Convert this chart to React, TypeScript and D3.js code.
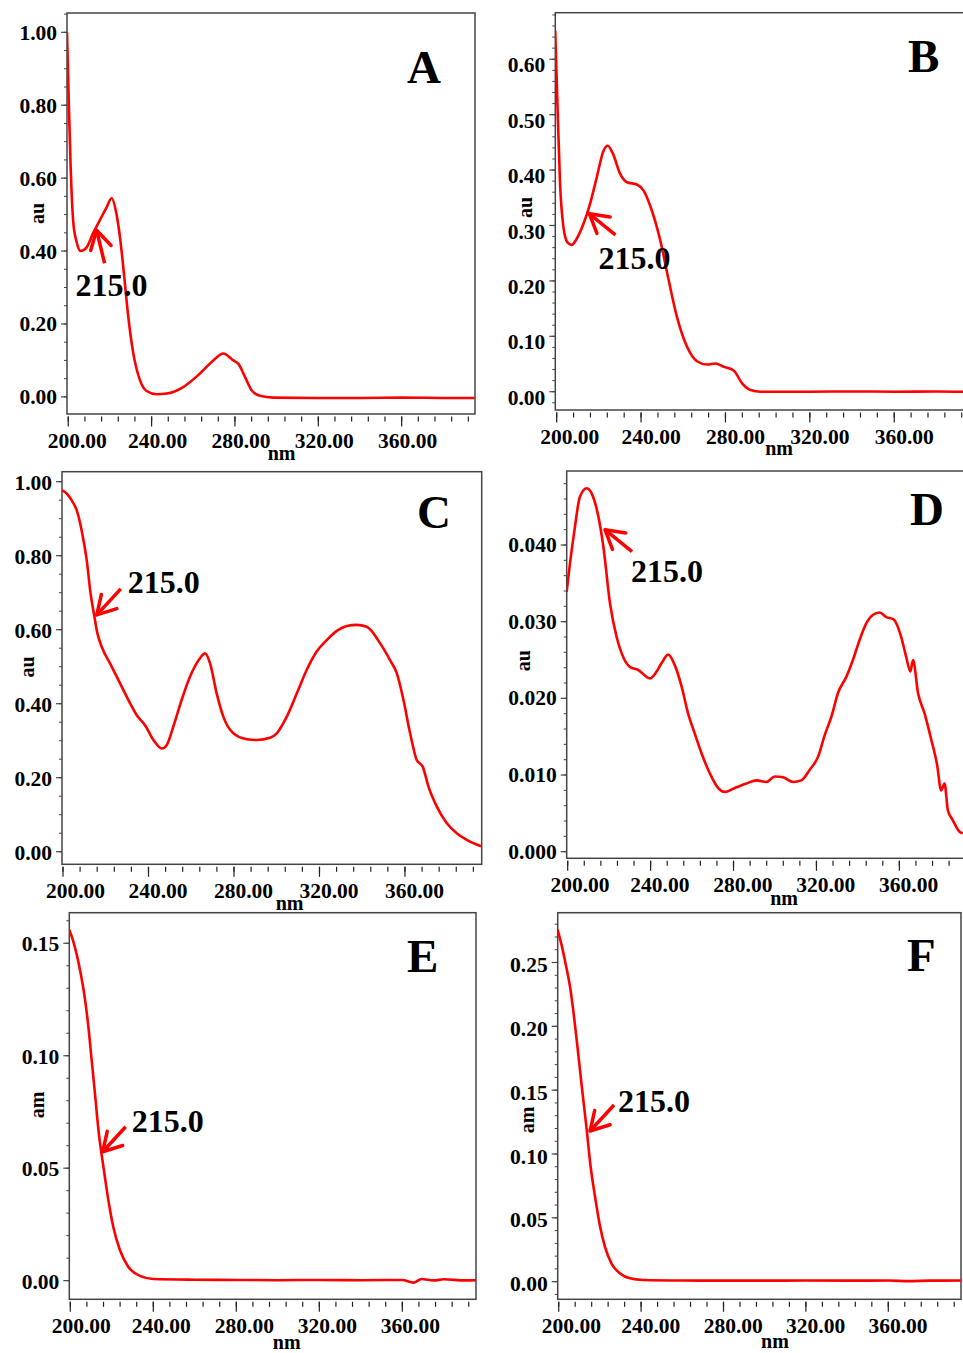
import React from 'react';
import * as d3 from 'd3';

// x axis (wavelength) ticks shared by all panels
const xTicks = [200, 240, 280, 320, 360];
const xTickLabels = ['200.00', '240.00', '280.00', '320.00', '360.00'];

// panel A
const nmA = [199.4, 200.3, 201.1, 202.4, 204, 206, 208.8, 212, 215.2, 218.4, 220.8, 223.2, 225.6, 227.2, 228.8, 231.2, 234.4, 237.6, 242.4, 247.2, 255.2, 263.2, 269.6, 274.4, 279.2, 281.6, 284.8, 288, 292, 298.4, 320, 340, 360, 380, 395];
const auA = [1.0, 0.8, 0.64, 0.48, 0.425, 0.4, 0.41, 0.45, 0.485, 0.52, 0.545, 0.5, 0.4, 0.31, 0.22, 0.12, 0.046, 0.016, 0.007, 0.009, 0.027, 0.064, 0.1, 0.119, 0.1, 0.091, 0.055, 0.018, 0.003, -0.002, -0.003, -0.003, -0.002, -0.003, -0.003];
const yTicksA = [0, 0.2, 0.4, 0.6, 0.8, 1.0];

// panel B
const nmB = [199.3, 200.3, 201.6, 203.2, 205, 207.1, 209.5, 212.7, 215.8, 219, 222.2, 224.2, 226.6, 230.1, 233.3, 238, 241.2, 245.1, 249.1, 253.1, 257, 261.8, 266.5, 271.3, 275.2, 279.2, 284, 287.9, 291.9, 296.6, 320, 340, 360, 380, 392.6];
const auB = [0.652, 0.525, 0.375, 0.297, 0.27, 0.265, 0.276, 0.303, 0.339, 0.387, 0.435, 0.444, 0.43, 0.393, 0.378, 0.374, 0.363, 0.327, 0.273, 0.201, 0.135, 0.081, 0.055, 0.049, 0.051, 0.045, 0.038, 0.015, 0.003, 0, 0, 0.0005, 0, 0.0005, 0];
const yTicksB = [0, 0.1, 0.2, 0.3, 0.4, 0.5, 0.6];

// panel C
const nmC = [199.4, 201.7, 204, 206.4, 208.7, 211.1, 212.9, 214.7, 216.1, 218.1, 222, 226.7, 231.4, 234.5, 238.4, 242.3, 246.2, 248.5, 251.6, 255.5, 259.4, 264.1, 266.5, 268.8, 271.9, 275, 279.7, 286, 290.6, 296.9, 300, 304.7, 309.4, 314, 318.7, 323.4, 328.1, 332.8, 337.4, 342.1, 348.4, 353, 356.2, 359.3, 362.4, 365.5, 368.3, 371, 374.9, 379.6, 384.2, 388.9, 395.6];
const auC = [0.977, 0.968, 0.95, 0.923, 0.869, 0.788, 0.698, 0.635, 0.59, 0.554, 0.509, 0.455, 0.401, 0.369, 0.342, 0.302, 0.279, 0.288, 0.338, 0.41, 0.473, 0.523, 0.536, 0.509, 0.428, 0.365, 0.32, 0.304, 0.302, 0.308, 0.32, 0.365, 0.428, 0.491, 0.541, 0.572, 0.597, 0.61, 0.613, 0.608, 0.563, 0.518, 0.482, 0.41, 0.32, 0.248, 0.23, 0.176, 0.122, 0.077, 0.05, 0.032, 0.015];
const yTicksC = [0, 0.2, 0.4, 0.6, 0.8, 1.0];

// panel D
const nmD = [199.5, 201.1, 203.5, 205.9, 209.2, 211.6, 214.8, 217.2, 220.4, 223.6, 226, 230, 234, 239.7, 242.9, 245.3, 248.5, 251.7, 255, 258.1, 261.3, 264.6, 268.6, 272.6, 275.8, 281.4, 286.2, 291.1, 295.9, 299.9, 303.9, 308.7, 312.7, 316.8, 320.8, 324, 327.2, 330.4, 334.4, 337.6, 340.8, 344.1, 347.3, 350.5, 353.7, 357.2, 360.9, 363.3, 365.3, 366.6, 369, 372.2, 375.4, 378.1, 380.2, 381.8, 383.4, 385.8, 389, 390.6];
const auD = [0.0339, 0.0376, 0.0424, 0.0463, 0.0474, 0.0467, 0.0437, 0.0398, 0.0324, 0.028, 0.0259, 0.0241, 0.0237, 0.0226, 0.0235, 0.0246, 0.0257, 0.0243, 0.0215, 0.018, 0.0154, 0.0128, 0.0102, 0.0083, 0.0078, 0.0084, 0.0089, 0.0093, 0.0091, 0.0098, 0.0097, 0.0091, 0.0093, 0.0107, 0.0124, 0.0152, 0.0176, 0.0207, 0.0228, 0.025, 0.0276, 0.0298, 0.0309, 0.0312, 0.0306, 0.0303, 0.028, 0.0254, 0.0235, 0.025, 0.0207, 0.018, 0.0146, 0.0115, 0.008, 0.0089, 0.0054, 0.0041, 0.0026, 0.0024];
const yTicksD = [0, 0.01, 0.02, 0.03, 0.04];

// panel E
const nmE = [199.5, 201.4, 204.7, 207.1, 208.7, 210.3, 211.9, 213.8, 215.9, 218.3, 220.7, 223.9, 227.9, 233.6, 240, 260, 280, 300, 320, 340, 360, 365.3, 369.3, 375, 380, 390, 395.5];
const amE = [0.156, 0.151, 0.138, 0.125, 0.113, 0.098, 0.083, 0.065, 0.051, 0.036, 0.024, 0.0136, 0.0062, 0.0021, 0.0007, 0.0004, 0.0003, 0.0002, 0.0003, 0.0002, 0.0003, -0.0009, 0.0007, 0.0001, 0.0006, 0.0001, 0.0002];
const yTicksE = [0, 0.05, 0.1, 0.15];

// panel F
const nmF = [199.4, 201.5, 203.6, 205.5, 207.4, 209.1, 211.2, 213.6, 215.5, 217.6, 220.1, 222.5, 225.7, 229.8, 234.6, 241.1, 260, 280, 300, 320, 340, 360, 370, 380, 395.3];
const amF = [0.276, 0.263, 0.247, 0.231, 0.208, 0.184, 0.153, 0.119, 0.09, 0.067, 0.043, 0.027, 0.014, 0.0065, 0.0026, 0.0013, 0.0009, 0.0008, 0.0008, 0.0009, 0.0008, 0.0009, 0.0004, 0.0008, 0.0009];
const yTicksF = [0, 0.05, 0.1, 0.15, 0.2, 0.25];

const peakLabel = '215.0';

type Panel = {
  letter: string;
  nm: number[];
  val: number[];
  yTicks: number[];
  yFmt: string;
  yMinor: number;
  yLabel: string;
  box: [number, number, number, number];
  xDom: [number, number];
  yDom: [number, number];
  rightEdge: boolean;
  letterPos: [number, number];
  ylabDx: number;
  ylabDy: number;
  yTickDy: number;
  nmAt: number;
  nmDy: number;
  xLabShift: number;
  tip: [number, number];
  tail: [number, number];
  text: [number, number];
};

const panels: Panel[] = [
  { letter: 'A', nm: nmA, val: auA, yTicks: yTicksA, yFmt: '.2f', yMinor: 0.05, yLabel: 'au',
    box: [67, 13, 475, 414], xDom: [199.4, 395.2], yDom: [-0.047, 1.053], rightEdge: true,
    letterPos: [407, 83], ylabDx: -30, ylabDy: 0, yTickDy: 0, nmAt: 302.4, nmDy: 46, xLabShift: 6,
    tip: [213.6, 0.457], tail: [8, 33], text: [-21, 66] },
  { letter: 'B', nm: nmB, val: auB, yTicks: yTicksB, yFmt: '.2f', yMinor: 0.02, yLabel: 'au',
    box: [555.3, 12.7, 963, 410], xDom: [199.34, 392.6], yDom: [-0.033, 0.684], rightEdge: false,
    letterPos: [908, 72], ylabDx: -30, ylabDy: -4, yTickDy: 5.5, nmAt: 305.4, nmDy: 45, xLabShift: 10,
    tip: [215.5, 0.321], tail: [26, 21], text: [9, 55] },
  { letter: 'C', nm: nmC, val: auC, yTicks: yTicksC, yFmt: '.2f', yMinor: 0.05, yLabel: 'au',
    box: [62, 471.7, 481.7, 864.3], xDom: [199.53, 395.9], yDom: [-0.034, 1.027], rightEdge: true,
    letterPos: [417, 528], ylabDx: -35, ylabDy: -1, yTickDy: 0.5, nmAt: 306, nmDy: 46, xLabShift: 9.5,
    tip: [215.8, 0.64], tail: [24, -26], text: [31, -22] },
  { letter: 'D', nm: nmD, val: auD, yTicks: yTicksD, yFmt: '.3f', yMinor: 0.002, yLabel: 'au',
    box: [566.7, 471, 963, 858.3], xDom: [199.52, 390.7], yDom: [-0.00086, 0.04965], rightEdge: false,
    letterPos: [910, 525], ylabDx: -44, ylabDy: -4, yTickDy: -0.5, nmAt: 304.4, nmDy: 47, xLabShift: 9.3,
    tip: [218, 0.042], tail: [27, 22], text: [26, 52] },
  { letter: 'E', nm: nmE, val: amE, yTicks: yTicksE, yFmt: '.2f', yMinor: 0.01, yLabel: 'am',
    box: [69.3, 912.7, 476, 1299.3], xDom: [199.52, 395.5], yDom: [-0.0083, 0.1636], rightEdge: true,
    letterPos: [407, 972], ylabDx: -32, ylabDy: -1, yTickDy: 0.5, nmAt: 304.3, nmDy: 50, xLabShift: 8,
    tip: [215.6, 0.0573], tail: [23, -25], text: [29, -20] },
  { letter: 'F', nm: nmF, val: amF, yTicks: yTicksF, yFmt: '.2f', yMinor: 0.01, yLabel: 'am',
    box: [557.7, 912.7, 961, 1299.3], xDom: [199.51, 395.3], yDom: [-0.0138, 0.289], rightEdge: true,
    letterPos: [907, 971], ylabDx: -31, ylabDy: 14, yTickDy: 2, nmAt: 305, nmDy: 49, xLabShift: 9.7,
    tip: [215.2, 0.118], tail: [24, -26], text: [28, -19] },
];

const font = "'Liberation Serif', 'Times New Roman', serif";
const red = '#ff0000';
const axisColor = '#444';

const SpectrumPanel = ({ p }: { p: Panel }) => {
  const [l, t, r, b] = p.box;
  const x = d3.scaleLinear().domain(p.xDom).range([l, r]);
  const y = d3.scaleLinear().domain(p.yDom).range([b, t]);
  const fmt = d3.format(p.yFmt);

  const line = d3
    .line<number>()
    .x((_, i) => x(p.nm[i]))
    .y(d => y(d))
    .curve(d3.curveMonotoneX);

  const xMinor = d3.range(200, p.xDom[1], 8);
  const k0 = Math.ceil(p.yDom[0] / p.yMinor);
  const steps = Math.floor((p.yDom[1] - p.yDom[0]) / p.yMinor) + 2;
  const yMinor = d3
    .range(k0, k0 + steps)
    .map(k => k * p.yMinor)
    .filter(v => v >= p.yDom[0] && v <= p.yDom[1]);

  // arrow: tip sits on the curve, tail offset in px
  const tx = x(p.tip[0]);
  const ty = y(p.tip[1]);
  const len = Math.hypot(p.tail[0], p.tail[1]);
  const ux = p.tail[0] / len;
  const uy = p.tail[1] / len;
  const arm = (deg: number) => {
    const a = (deg * Math.PI) / 180;
    const rx = ux * Math.cos(a) - uy * Math.sin(a);
    const ry = ux * Math.sin(a) + uy * Math.cos(a);
    return `M${tx + rx * 21},${ty + ry * 21}L${tx},${ty}`;
  };

  const midY = (t + b) / 2;

  return (
    <g>
      <defs>
        <clipPath id={`clip-${p.letter}`}>
          <rect x={l} y={t} width={r - l} height={b - t} />
        </clipPath>
      </defs>
      <rect x={l} y={t} width={(p.rightEdge ? r : r + 10) - l} height={b - t}
        fill="white" stroke={axisColor} strokeWidth={1.5} />

      {/* y ticks */}
      {yMinor.map((v, i) => (
        <line key={`ym${i}`} x1={l - 3} x2={l} y1={y(v)} y2={y(v)} stroke={axisColor} strokeWidth={1} />
      ))}
      {p.yTicks.map(v => (
        <g key={`y${v}`}>
          <line x1={l - 6} x2={l} y1={y(v)} y2={y(v)} stroke={axisColor} strokeWidth={1.2} />
          <text x={l - 10} y={y(v) + p.yTickDy} dy="0.35em" textAnchor="end" fontFamily={font}
            fontWeight="bold" fontSize={21.5}>{fmt(v)}</text>
        </g>
      ))}

      {/* x ticks */}
      {xMinor.map(v => (
        <line key={`xm${v}`} x1={x(v)} x2={x(v)} y1={b + 2.5} y2={b + 7.5} stroke="#222" strokeWidth={1.2} />
      ))}
      {xTicks.map((v, i) => (
        <g key={`x${v}`}>
          <line x1={x(v)} x2={x(v)} y1={b + 2.5} y2={b + 12.5} stroke="#222" strokeWidth={1.2} />
          <text x={x(v) + p.xLabShift + (i === 0 ? 3 : 0)} y={b + 34} textAnchor="middle"
            fontFamily={font} fontWeight="bold" fontSize={21.5}>{xTickLabels[i]}</text>
        </g>
      ))}

      <text x={x(p.nmAt)} y={b + p.nmDy} textAnchor="middle" fontFamily={font}
        fontWeight="bold" fontSize={20}>nm</text>
      <text transform={`translate(${l + p.ylabDx},${midY + p.ylabDy}) rotate(-90)`}
        textAnchor="middle" dy="0.35em" fontFamily={font} fontWeight="bold" fontSize={20}>
        {p.yLabel}
      </text>

      <path d={line(p.val) ?? ''} fill="none" stroke={red} strokeWidth={2.6}
        strokeLinejoin="round" clipPath={`url(#clip-${p.letter})`} />

      <text x={p.letterPos[0]} y={p.letterPos[1]} fontFamily={font} fontWeight="bold"
        fontSize={47}>{p.letter}</text>

      <path d={`M${tx + p.tail[0]},${ty + p.tail[1]}L${tx},${ty}`} stroke={red}
        strokeWidth={3.5} fill="none" />
      <path d={arm(30) + arm(-30)} stroke={red} strokeWidth={3.5} fill="none"
        strokeLinecap="round" />
      <text x={tx + p.text[0]} y={ty + p.text[1]} fontFamily={font} fontWeight="bold"
        fontSize={32}>{peakLabel}</text>
    </g>
  );
};

const App = () => {
  return (
    <svg width={963} height={1353}
      style={{ position: 'absolute', left: 0, top: 0, background: 'white' }}>
      <rect width={963} height={1353} fill="white" />
      {panels.map(p => (
        <SpectrumPanel key={p.letter} p={p} />
      ))}
    </svg>
  );
};

export default App;
